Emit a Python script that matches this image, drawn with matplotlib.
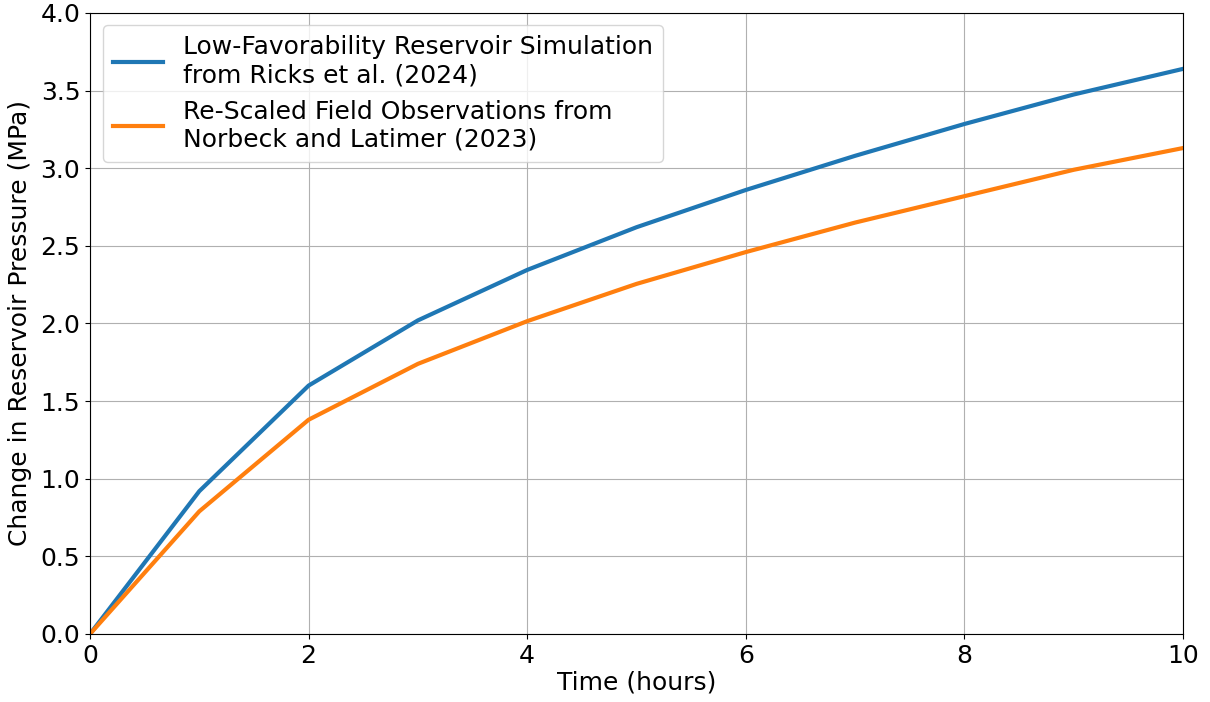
import numpy as np
import matplotlib
matplotlib.use('Agg')
import matplotlib.pyplot as plt

hours = [0, 1, 2, 3, 4, 5, 6, 7, 8, 9, 10]
sim_pressure = [0.0, 0.92, 1.60, 2.02, 2.345, 2.62, 2.86, 3.08, 3.285, 3.475, 3.64]
obs_pressure = [0.0, 0.79, 1.38, 1.74, 2.015, 2.255, 2.46, 2.65, 2.82, 2.99, 3.13]

sim_label = 'Low-Favorability Reservoir Simulation\nfrom Ricks et al. (2024)'
obs_label = 'Re-Scaled Field Observations from\nNorbeck and Latimer (2023)'

fig, ax = plt.subplots(figsize=(12.1, 7.02), dpi=100)
fig.subplots_adjust(left=0.0744, right=0.9777, bottom=0.0969, top=0.9815)

ax.plot(hours, sim_pressure, lw=3, c='#1f77b4', label=sim_label)
ax.plot(hours, obs_pressure, lw=3, c='#ff7f0e', label=obs_label)

ax.set_xlim(0, 10)
ax.set_ylim(0, 4.0)
ax.grid(True)
ax.tick_params(labelsize=18)
ax.set_xlabel('Time (hours)', fontsize=18, labelpad=2)
ax.set_ylabel('Change in Reservoir Pressure (MPa)', fontsize=18, labelpad=6)
ax.legend(fontsize=18, loc='upper left')

plt.savefig('out.png', dpi=100)
